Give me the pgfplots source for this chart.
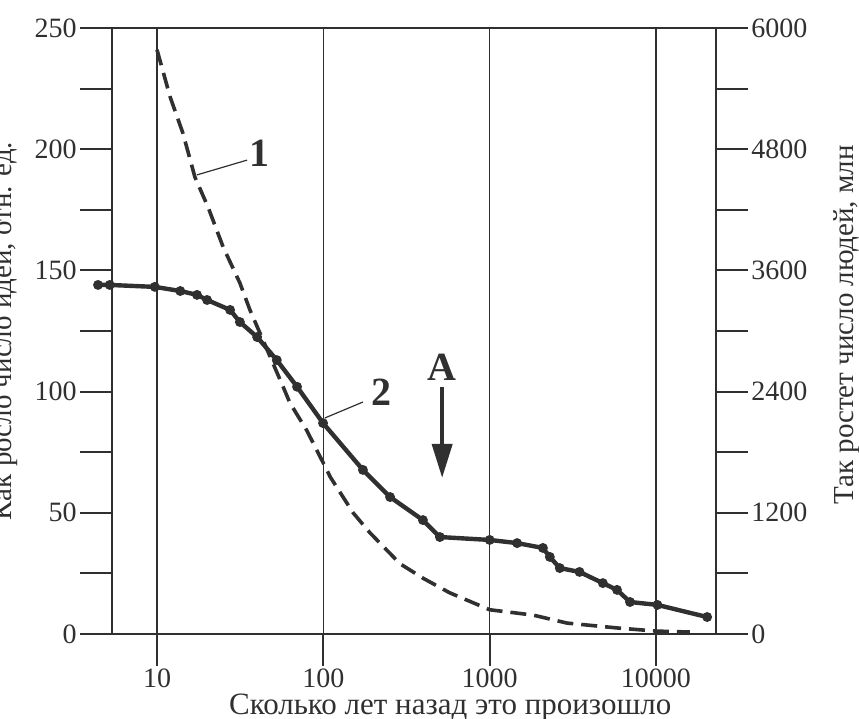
\documentclass[border=0pt]{standalone}
\usepackage{fontspec}
\setmainfont{Liberation Serif}
\usepackage{pgfplots}
\pgfplotsset{compat=1.18}
\usetikzlibrary{arrows.meta}

\definecolor{ink}{HTML}{303030}

\begin{document}
\begin{tikzpicture}
\begin{axis}[
  scale only axis, width=302pt, height=303pt,
  xmode=log, xmin=5.363, xmax=22950,
  ymin=0, ymax=250,
  axis line style={line width=1pt, ink},
  xtick={10,100,1000,10000}, xticklabels={10,100,1000,10000},
  xminorticks=false,
  xtick pos=bottom, ytick pos=left,
  tick align=outside,
  major tick length=16pt, minor tick length=16pt,
  ytick={0,50,...,250}, yticklabels={0,50,100,150,200,250},
  minor ytick={25,75,...,225},
  every tick/.style={ink, line width=1pt},
  xmajorgrids, grid style={line width=0.7pt, ink},
  ticklabel style={font=\fontsize{14}{14}\selectfont, text=ink},
  yticklabel style={inner sep=1.5pt},
  xticklabel style={inner sep=1pt},
  xlabel={Сколько лет назад это произошло},
  xlabel style={at={(axis description cs:0.56,-0.1335)}, anchor=base,
    font=\fontsize{15.5}{15.5}\selectfont, text=ink},
  ylabel={Как росло число идей, отн. ед.},
  ylabel style={at={(axis description cs:-0.166,0.5)}, anchor=base,
    font=\fontsize{14.5}{14.5}\selectfont, text=ink},
  clip=false,
]
\coordinate (O) at (rel axis cs:0,0);

% 1 -- dashed curve
\addplot[ink, line width=1.8pt, dash pattern=on 8pt off 4pt] coordinates {
  (10,241) (12,221.5) (14.3,206.7) (16.9,188.5) (20.3,176) (25,159.6)
  (31.5,144.8) (36.2,133.7) (57.3,102) (63,95.3) (79.5,84) (100,70.5)
  (110,64.8) (151,50) (191,41.7) (289,29) (398,23) (575,17) (1000,10)
  (1825,7.8) (2920,4.5) (5830,2.5) (10000,1.2) (16000,0.8)
};

% 2 -- solid curve with dots
\addplot[ink, line width=2.2pt, mark=*, mark size=1.3pt] coordinates {
  (4.42,144) (5.2,144) (9.7,143.2) (13.8,141.5) (17.4,139.9) (20,137.8)
  (27.5,133.7) (31.5,128.7) (40,122.5) (52.5,113) (69.5,102) (99.6,87)
  (173,67.7) (252,56.5) (397,47) (502,40) (1000,38.8) (1462,37.5)
  (2090,35.5) (2300,31.8) (2640,27.2) (3470,25.6) (4790,21) (5830,18.2)
  (6980,13.2) (10200,12) (20300,7)
};

\draw[ink, line width=0.6pt] (axis cs:17.4,189.4) -- (axis cs:34.8,195.5);
\node[ink, font=\bfseries\fontsize{20}{20}\selectfont] at (axis cs:41.6,198.4) {1};
\draw[ink, line width=0.6pt] (axis cs:102,89.1) -- (axis cs:173,95.7);
\node[ink, font=\bfseries\fontsize{20}{20}\selectfont] at (axis cs:225,99.8) {2};
\node[ink, font=\bfseries\fontsize{20}{20}\selectfont] at (axis cs:518,110) {A};
\draw[ink, line width=2pt, -{Triangle[length=17pt,width=10pt]}]
  (axis cs:518,101.9) -- (axis cs:518,64.4);
\end{axis}

\begin{axis}[
  scale only axis, width=302pt, height=303pt,
  xmode=log, xmin=5.363, xmax=22950,
  axis x line=none, axis y line*=right,
  ymin=0, ymax=6000,
  axis line style={line width=1pt, ink},
  ytick={0,1200,...,6000}, yticklabels={0,1200,2400,3600,4800,6000},
  minor ytick={600,1800,...,5400},
  tick align=outside,
  major tick length=16pt, minor tick length=16pt,
  every tick/.style={ink, line width=1pt},
  ticklabel style={font=\fontsize{14}{14}\selectfont, text=ink},
  yticklabel style={inner sep=1.5pt},
  ylabel={Так ростет число людей, млн},
  ylabel style={at={(axis description cs:1.227,0.51)}, anchor=base,
    rotate=0, font=\fontsize{14.5}{14.5}\selectfont, text=ink},
]
\end{axis}

\pgfresetboundingbox
\path[use as bounding box] (O) ++(-56pt,-42.5pt) rectangle ++(429.5pt,359.5pt);
\end{tikzpicture}
\end{document}
